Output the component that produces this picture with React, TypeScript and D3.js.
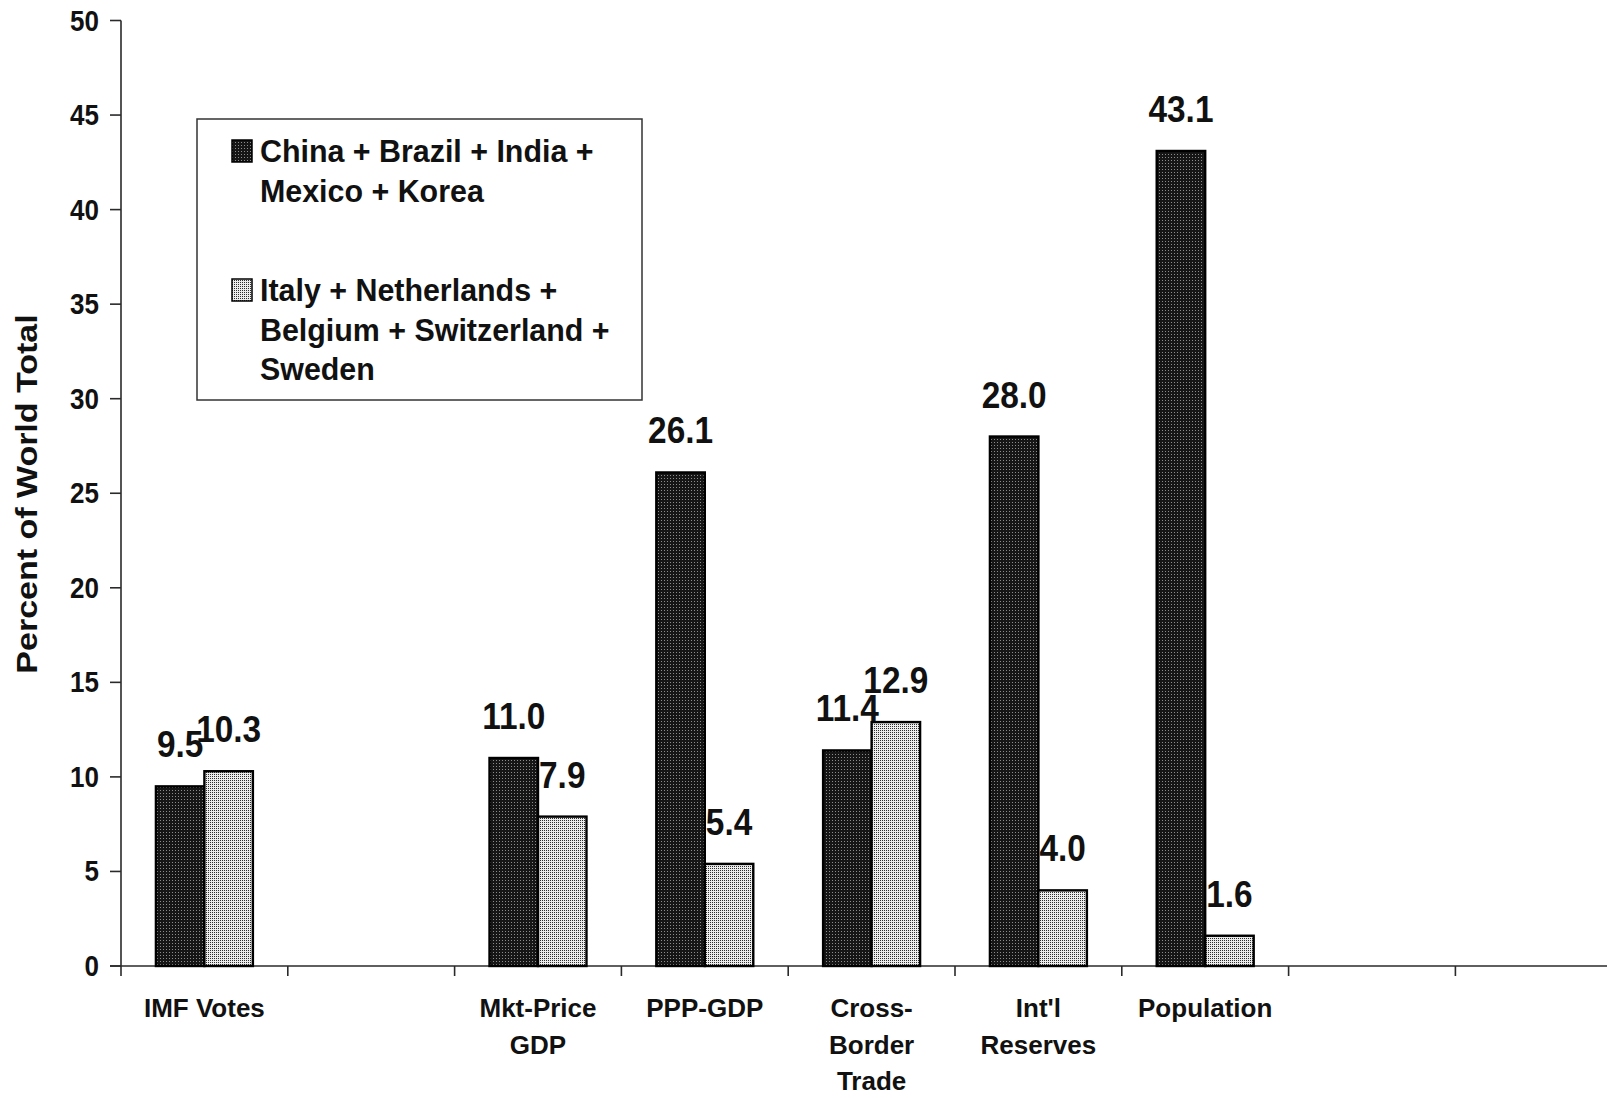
import React from "react";
import * as d3 from "d3";

const categoryLines: string[][] = [
  ["IMF Votes"],
  [],
  ["Mkt-Price", "GDP"],
  ["PPP-GDP"],
  ["Cross-", "Border", "Trade"],
  ["Int'l", "Reserves"],
  ["Population"],
  [],
  [],
];
const seriesNames = ["China + Brazil + India + Mexico + Korea", "Italy + Netherlands + Belgium + Switzerland + Sweden"];
const legendLines: string[][] = [
  ["China + Brazil + India +", "Mexico + Korea"],
  ["Italy + Netherlands +", "Belgium + Switzerland +", "Sweden"],
];
const emerging: (number | null)[] = [9.5, null, 11.0, 26.1, 11.4, 28.0, 43.1, null, null];
const european: (number | null)[] = [10.3, null, 7.9, 5.4, 12.9, 4.0, 1.6, null, null];
const yTicks = [0, 5, 10, 15, 20, 25, 30, 35, 40, 45, 50];
const yTitle = "Percent of World Total";

const W = 1607;
const H = 1098;
const FONT = "'Liberation Sans', Arial, Helvetica, sans-serif";

export default function App() {
  const x0 = 121;
  const step = 166.8;
  const x = d3
    .scaleBand<number>()
    .domain(d3.range(categoryLines.length))
    .range([x0, x0 + step * categoryLines.length])
    .padding(0);
  const xSub = d3.scaleBand<number>().domain([0, 1]).range([0, x.bandwidth()]).paddingInner(0).paddingOuter(0.72);
  const y = d3.scaleLinear().domain([0, 50]).range([966, 20.5]);
  const series = [emerging, european];
  const fills = ["url(#darkPat)", "url(#lightPat)"];
  const axisColor = "#2a2a2a";
  const yAxisX = x0;

  return (
    <svg
      width={W}
      height={H}
      style={{ position: "absolute", left: 0, top: 0, background: "#fff", display: "block" }}
      fontFamily={FONT}
      fontWeight="bold"
    >
      <defs>
        <pattern id="darkPat" patternUnits="userSpaceOnUse" width={3} height={3}>
          <rect width={3} height={3} fill="#161616" />
          <rect x={1} y={1} width={1} height={1} fill="#8c8c8c" />
        </pattern>
        <pattern id="lightPat" patternUnits="userSpaceOnUse" width={2} height={2}>
          <rect width={2} height={2} fill="#ececec" />
          <rect x={0} y={0} width={1} height={1} fill="#2e2e2e" />
        </pattern>
      </defs>
      <rect width={W} height={H} fill="#fff" />

      {/* y title */}
      <text
        transform={`translate(37,494) rotate(-90) scale(1,0.86)`}
        textAnchor="middle"
        fontSize={34}
        fill="#111"
      >
        {yTitle}
      </text>

      {/* y axis */}
      <line x1={yAxisX} x2={yAxisX} y1={y(50)} y2={976} stroke={axisColor} strokeWidth={1.6} />
      {yTicks.map((t) => (
        <g key={t}>
          <line x1={110} x2={yAxisX} y1={y(t)} y2={y(t)} stroke={axisColor} strokeWidth={1.6} />
          <text
            transform={`translate(99,${y(t) + 10}) scale(1,1.12)`}
            textAnchor="end"
            fontSize={26}
            fill="#111"
          >
            {t}
          </text>
        </g>
      ))}

      {/* x axis */}
      <line x1={110} x2={W} y1={y(0)} y2={y(0)} stroke={axisColor} strokeWidth={1.6} />
      {d3.range(1, categoryLines.length + 1).map((i) => {
        const xx = x0 + step * i;
        return <line key={i} x1={xx} x2={xx} y1={y(0)} y2={976} stroke={axisColor} strokeWidth={1.6} />;
      })}

      {/* bars */}
      {series.map((s, si) =>
        s.map((v, ci) => {
          if (v == null) return null;
          const bx = (x(ci) as number) + (xSub(si) as number);
          const bw = xSub.bandwidth();
          return (
            <rect
              key={`${si}-${ci}`}
              x={bx}
              y={y(v)}
              width={bw}
              height={y(0) - y(v)}
              fill={fills[si]}
              stroke="#000"
              strokeWidth={2.4}
            />
          );
        })
      )}

      {/* value labels */}
      {series.map((s, si) =>
        s.map((v, ci) => {
          if (v == null) return null;
          const cx = (x(ci) as number) + (xSub(si) as number) + xSub.bandwidth() / 2;
          return (
            <text
              key={`l${si}-${ci}`}
              transform={`translate(${cx},${y(v) - 29}) scale(1,1.13)`}
              textAnchor="middle"
              fontSize={33.4}
              fill="#111"
            >
              {v.toFixed(1)}
            </text>
          );
        })
      )}

      {/* category labels */}
      {categoryLines.map((lines, ci) =>
        lines.map((ln, li) => (
          <text
            key={`c${ci}-${li}`}
            x={(x(ci) as number) + x.bandwidth() / 2}
            y={1017 + li * 36.5}
            textAnchor="middle"
            fontSize={26}
            fill="#111"
          >
            {ln}
          </text>
        ))
      )}

      {/* legend */}
      <rect x={197} y={119} width={445} height={281} fill="#fff" stroke="#333" strokeWidth={1.5} />
      {legendLines.map((lines, si) => {
        const top = si === 0 ? 162 : 301;
        return (
          <g key={`lg${si}`}>
            <title>{seriesNames[si]}</title>
            <rect x={232} y={top - 22} width={20} height={22} fill={fills[si]} stroke="#000" strokeWidth={1.5} />
            {lines.map((ln, li) => (
              <text
                key={li}
                transform={`translate(260,${top + li * 39.5}) scale(1,1.06)`}
                fontSize={30.4}
                fill="#111"
              >
                {ln}
              </text>
            ))}
          </g>
        );
      })}
    </svg>
  );
}
